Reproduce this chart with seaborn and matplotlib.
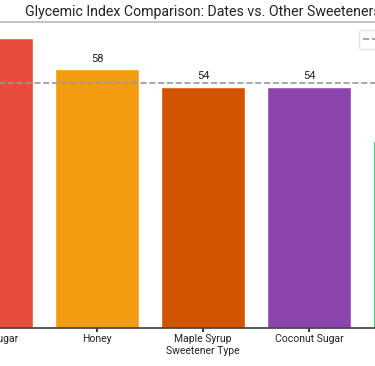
import matplotlib
matplotlib.use("Agg")
import matplotlib.pyplot as plt
import seaborn as sns
import pandas as pd

categories = ["Table Sugar", "Honey", "Maple Syrup", "Coconut Sugar", "Dates"]
gi_values = [65, 58, 54, 54, 42]
colors = ["#E74C3C", "#F39C12", "#D35400", "#8E44AD", "#27AE60"]
threshold = 55
threshold_label = "Low GI Cutoff"

sns.set_theme(style="white")
plt.rcParams["font.family"] = ["Roboto", "DejaVu Sans"]

df = pd.DataFrame({"Sweetener": categories, "GI": gi_values})

fig = plt.figure(figsize=(3.75, 3.66), dpi=100)
ax = fig.add_axes([-62 / 375, 38 / 366, 530 / 375, 306 / 366])

sns.barplot(data=df, x="Sweetener", y="GI", hue="Sweetener", palette=colors,
            legend=False, ax=ax, width=0.8, saturation=1)

for i, v in enumerate(gi_values):
    ax.annotate(f"{v}", (i, v), xytext=(0, 4), textcoords="offset points",
                ha="center", va="bottom", fontsize=8, color="#222222")

ax.axhline(threshold, color="#999999", linestyle="--", linewidth=1.2,
           label=threshold_label, zorder=5)
ax.legend(loc="upper right", fontsize=7.5, frameon=True, edgecolor="#dddddd",
          borderaxespad=0.8)

ax.set_ylim(0, max(gi_values) * 1.055)
ax.set_title("Glycemic Index Comparison: Dates vs. Other Sweeteners",
             fontsize=10.2, pad=4, color="#222222")
ax.set_xlabel("Sweetener Type", fontsize=7.5, color="#222222", labelpad=1)
ax.set_ylabel("Glycemic Index (GI)", fontsize=7.5)
ax.tick_params(axis="x", labelsize=7.5, colors="#222222", length=3, pad=1.5,
               bottom=True)
for s in ["top", "right", "left"]:
    ax.spines[s].set_color("#bbbbbb")
ax.spines["bottom"].set_color("#444444")

fig.savefig("out.png", dpi=100)
